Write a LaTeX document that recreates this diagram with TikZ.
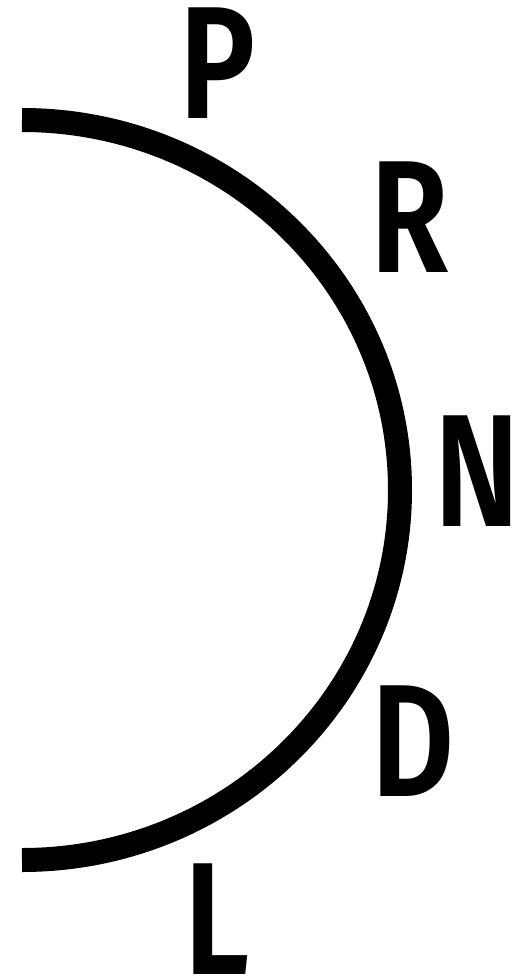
\documentclass[tikz,border=0pt]{standalone}
\usepackage{fontspec}
\setmainfont{Fira Sans SemiBold}[FakeStretch=0.8]
\begin{document}
\begin{tikzpicture}[x=1pt,y=1pt,
  lab/.style={inner sep=0pt,font=\fontsize{160}{160}\selectfont}]
\useasboundingbox (0,0) rectangle (514,-977);
\draw[line width=24pt] (22pt,-120pt) arc[start angle=90,end angle=-90,x radius=378pt,y radius=370pt];
\node[lab] (p) at (218,-63) {P};
\node[lab] (r) at (410,-217.5) {R};
\node[lab] (n) at (477,-471) {N};
\node[lab] (d) at (413,-741) {D};
\node[lab] (l) at (217,-919) {L};
\end{tikzpicture}
\end{document}
